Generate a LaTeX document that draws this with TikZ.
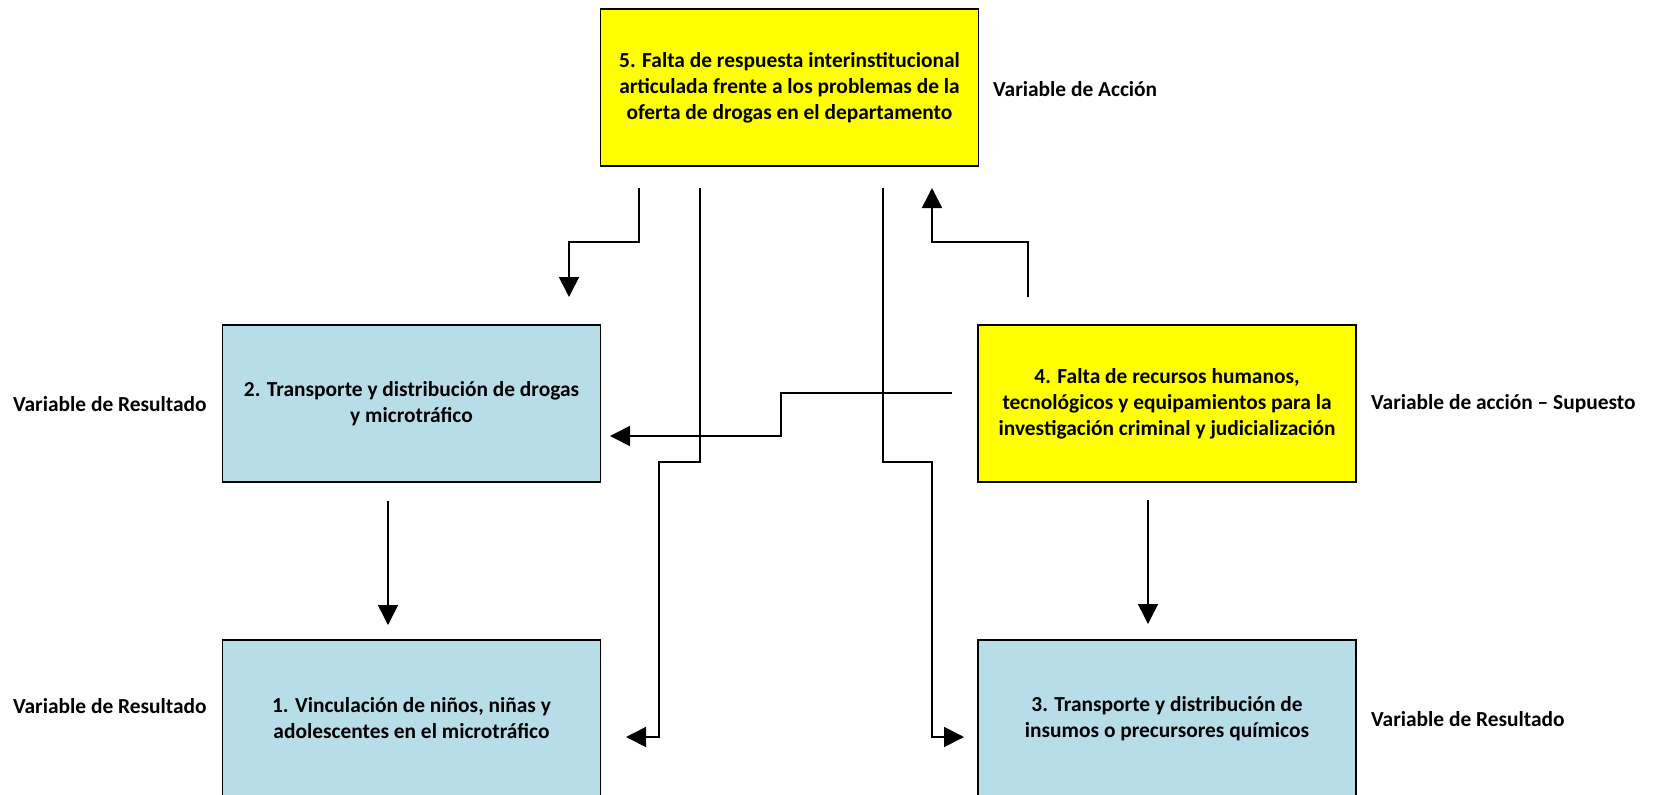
\documentclass[tikz,border=0pt]{standalone}
\usepackage{fontspec}
\setmainfont{Carlito}
\usetikzlibrary{arrows.meta}
\definecolor{boxyellow}{HTML}{FFFF00}
\definecolor{boxblue}{HTML}{B7DDE8}
\begin{document}
\begin{tikzpicture}[x=1pt,y=-1pt,
  txt/.style={font=\fontsize{21.4}{26}\selectfont\bfseries},
  box/.style={txt, draw=black, line width=1.8pt, minimum width=378pt, minimum height=157pt, inner sep=0pt, align=center},
  actbox/.style={box, fill=boxyellow},
  resbox/.style={box, fill=boxblue},
  lab/.style={txt, anchor=west, inner sep=0pt},
  conn/.style={line width=1.6pt, -{Triangle[length=20pt,width=20pt]}},
  plain/.style={line width=1.6pt}]
\useasboundingbox (0,0) rectangle (1658,795);
\clip (0,0) rectangle (1658,795);

% boxes
\node[actbox] (b5) at (789.5,87.5) {5. Falta de respuesta interinstitucional\\articulada frente a los problemas de la\\oferta de drogas en el departamento};
\node[resbox] (b2) at (411.5,403.5) {2. Transporte y distribución de drogas\\y microtráfico};
\node[actbox] (b4) at (1167,403.5) {4. Falta de recursos humanos,\\tecnológicos y equipamientos para la\\investigación criminal y judicialización};
\node[resbox] (b1) at (411.5,718.5) {1. Vinculación de niños, niñas y\\adolescentes en el microtráfico};
\node[resbox] (b3) at (1167,718.5) {3. Transporte y distribución de\\insumos o precursores químicos};

% labels
\node[lab] (l5) at (993,89) {Variable de Acción};
\node[lab] (l2) at (13,404) {Variable de Resultado};
\node[lab] (l4) at (1371,404) {Variable de acción – Supuesto};
\node[lab] (l1) at (13,706) {Variable de Resultado};
\node[lab] (l3) at (1371,719) {Variable de Resultado};

% connector end points
\coordinate (a0) at (639,188);  \coordinate (a1) at (569,297);
\coordinate (c0) at (700,188);  \coordinate (c1) at (626,737);
\coordinate (d0) at (883,188);  \coordinate (d1) at (964,737);
\coordinate (e0) at (1028,297); \coordinate (e1) at (932,188);
\coordinate (f0) at (952,393);  \coordinate (f1) at (610,436);
\coordinate (g0) at (388,501);  \coordinate (g1) at (388,625);
\coordinate (h0) at (1148,500); \coordinate (h1) at (1148,624);

% connectors
\draw[conn] (a0) -- (639,242) -- (569,242) -- (a1);
\draw[conn] (c0) -- (700,462) -- (659,462) -- (659,737) -- (c1);
\draw[conn] (d0) -- (883,462) -- (932,462) -- (932,737) -- (d1);
\draw[conn] (e0) -- (1028,242) -- (932,242) -- (e1);
\draw[conn] (f0) -- (781,393) -- (781,436) -- (f1);
\draw[conn] (g0) -- (g1);
\draw[conn] (h0) -- (h1);
\end{tikzpicture}
\end{document}
